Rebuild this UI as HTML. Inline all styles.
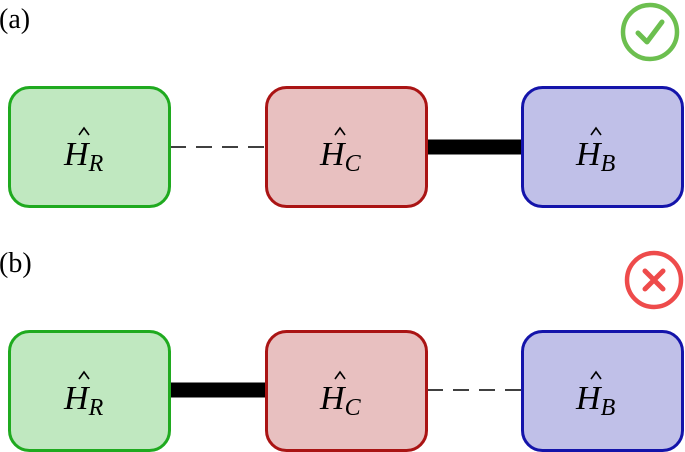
<!DOCTYPE html>
<html><head><style>
body{margin:0;background:#fff;}
svg{display:block;}
text{font-family:"Liberation Serif",serif;fill:#000;}
</style></head><body>
<svg width="685" height="452" viewBox="0 0 685 452">
<text x="-1" y="28" font-size="28">(a)</text>
<text x="-1" y="272" font-size="28">(b)</text>
<circle cx="650" cy="32" r="27" fill="none" stroke="#6cbf4f" stroke-width="4.5"/>
<path d="M638 33 L647 42 L662 22" fill="none" stroke="#6cbf4f" stroke-width="5" stroke-linecap="round" stroke-linejoin="round"/>
<circle cx="654" cy="280" r="27" fill="none" stroke="#ee4b4b" stroke-width="4.5"/>
<path d="M645 271 L663 289 M663 271 L645 289" stroke="#ee4b4b" stroke-width="5" stroke-linecap="round"/>
<line x1="170" y1="147" x2="266" y2="147" stroke="#000" stroke-width="1.5" stroke-dasharray="16,10"/>
<line x1="427" y1="147" x2="522" y2="147" stroke="#000" stroke-width="15"/>
<line x1="170" y1="390" x2="266" y2="390" stroke="#000" stroke-width="15"/>
<line x1="427" y1="390" x2="522" y2="390" stroke="#000" stroke-width="1.5" stroke-dasharray="16,10"/>
<g>
<rect x="9.5" y="87.5" width="160" height="119" rx="20" fill="#c0e8c0" stroke="#1faa1f" stroke-width="3"/>
<rect x="266.5" y="87.5" width="160" height="119" rx="20" fill="#e8c0c0" stroke="#aa1414" stroke-width="3"/>
<rect x="522.5" y="87.5" width="160" height="119" rx="20" fill="#c0c0e8" stroke="#1414aa" stroke-width="3"/>
<rect x="9.5" y="331.5" width="160" height="119" rx="20" fill="#c0e8c0" stroke="#1faa1f" stroke-width="3"/>
<rect x="266.5" y="331.5" width="160" height="119" rx="20" fill="#e8c0c0" stroke="#aa1414" stroke-width="3"/>
<rect x="522.5" y="331.5" width="160" height="119" rx="20" fill="#c0c0e8" stroke="#1414aa" stroke-width="3"/>
</g>
<g font-size="34" font-style="italic">
<text x="64" y="165">H<tspan font-size="24" dy="6">R</tspan></text>
<text x="320" y="165">H<tspan font-size="24" dy="6">C</tspan></text>
<text x="576" y="165">H<tspan font-size="24" dy="6">B</tspan></text>
<text x="64" y="409">H<tspan font-size="24" dy="6">R</tspan></text>
<text x="320" y="409">H<tspan font-size="24" dy="6">C</tspan></text>
<text x="576" y="409">H<tspan font-size="24" dy="6">B</tspan></text>
</g>
<g fill="none" stroke="#000" stroke-width="1.6">
<path d="M79 135 L84 128 L89 135"/><path d="M335 135 L340 128 L345 135"/><path d="M591 135 L596 128 L601 135"/>
<path d="M79 379 L84 372 L89 379"/><path d="M335 379 L340 372 L345 379"/><path d="M591 379 L596 372 L601 379"/>
</g>
</svg>
</body></html>
